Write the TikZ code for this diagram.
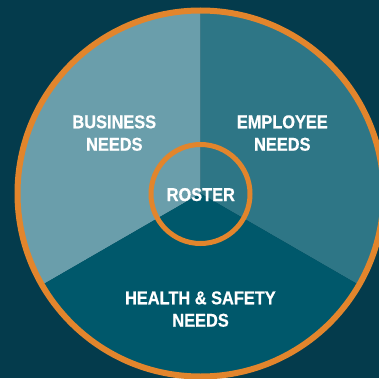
\documentclass[tikz,border=0pt]{standalone}
\usepackage{fontspec}
\setmainfont{Liberation Sans}[FakeStretch=0.88, BoldFeatures={FakeBold=0.6}]
\definecolor{bgc}{HTML}{043B4C}
\definecolor{lightsec}{HTML}{6A9EAB}
\definecolor{midsec}{HTML}{2E7686}
\definecolor{darksec}{HTML}{00586B}
\definecolor{ringc}{HTML}{E2852C}
\tikzset{
  lbl/.style={text=white, font=\fontsize{18.6}{22.4}\selectfont\bfseries, inner sep=0pt, anchor=base},
  ring/.style={draw=ringc},
}
\begin{document}
\begin{tikzpicture}[x=1pt,y=1pt]
\fill[bgc] (0,0) rectangle (379,378);
\useasboundingbox (0,0) rectangle (379,378);
\coordinate (C) at (200.5,184.5);
\def\R{183pt}
\fill[lightsec] (C) -- ++(90:183) arc[start angle=90,end angle=210,radius=\R] -- cycle;
\fill[midsec] (C) -- ++(-30:183) arc[start angle=-30,end angle=90,radius=\R] -- cycle;
\fill[darksec] (C) -- ++(210:183) arc[start angle=210,end angle=330,radius=\R] -- cycle;
\node[ring, circle, line width=6pt, minimum size=366pt, inner sep=0pt] (outer) at (C) {};
\node[ring, circle, line width=5pt, minimum size=99pt, inner sep=0pt] (inner) at (200.5,184) {};
\node[lbl] (bizA) at (114.3,249.7) {BUSINESS};
\node[lbl] (bizB) at (114.3,227.3) {NEEDS};
\node[lbl] (empA) at (282.3,249.7) {EMPLOYEE};
\node[lbl] (empB) at (282.3,227.3) {NEEDS};
\node[lbl] (roster) at (200.8,177) {ROSTER};
\node[lbl] (hsA) at (200.4,73.7) {HEALTH \& SAFETY};
\node[lbl] (hsB) at (200.6,51.3) {NEEDS};
\end{tikzpicture}
\end{document}
